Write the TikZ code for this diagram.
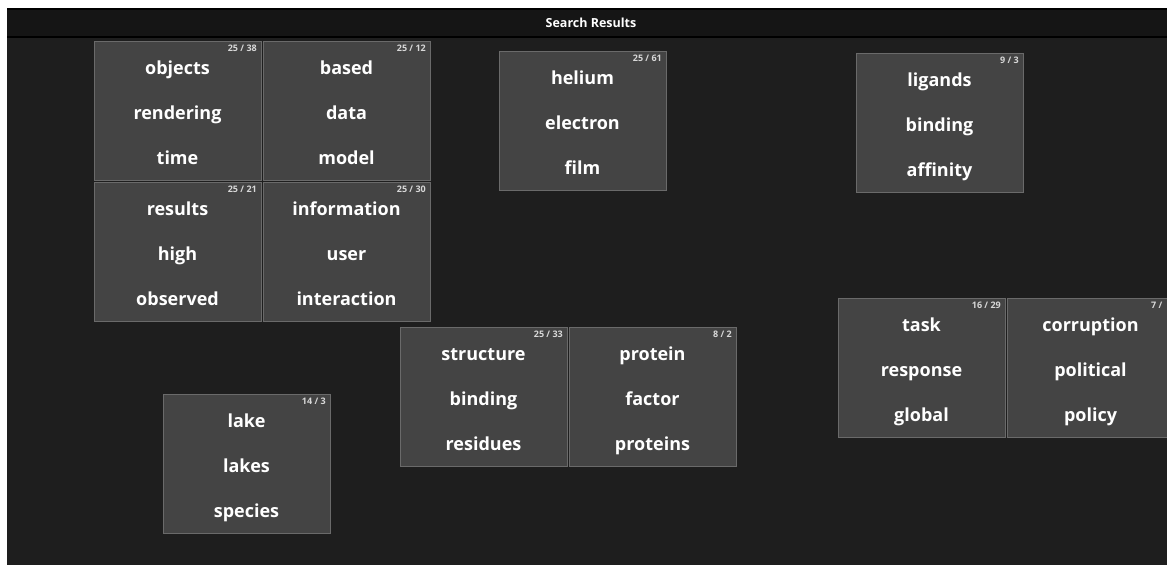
\documentclass[tikz,border=0pt]{standalone}
\usepackage{fontspec}
\setmainfont{Open Sans}
\usetikzlibrary{positioning}
\definecolor{panelbg}{HTML}{1E1E1E}
\definecolor{headerbg}{HTML}{151515}
\definecolor{cardfill}{HTML}{444444}
\definecolor{cardline}{HTML}{6A6A6A}
\definecolor{countgray}{HTML}{D8D8D8}
\tikzstyle{card} = [rectangle, draw=cardline, line width=1pt, fill=cardfill, minimum width=167pt, minimum height=139pt, inner sep=0pt, outer sep=0pt, text=white, align=center, font=\fontsize{18}{45}\selectfont\bfseries]
\tikzstyle{counts} = [anchor=north east, inner sep=0pt, text=countgray, font=\fontsize{9}{10}\selectfont\bfseries, xshift=-4pt, yshift=-4pt]
\tikzstyle{title} = [text=white, font=\fontsize{12.5}{14}\selectfont\bfseries]
% three words per card, fixed room above and below
\newcommand{\words}[3]{\rule{0pt}{22pt}#1\\#2\\#3\rule[-5pt]{0pt}{5pt}}

\begin{document}
\begin{tikzpicture}[x=1pt, y=-1pt]
        \useasboundingbox (0,0) rectangle (1167,565);
        \fill[white] (0,0) rectangle (1167,565);
        \fill[panelbg] (7,8) rectangle (1167,565);
        % header bar
        \fill[black] (7,8) rectangle (1167,38);
        \fill[headerbg] (7,10) rectangle (1167,36);
        \node (head) [title] at (591,23) {Search Results};
        % top left block of four
        \node (objects) [card, anchor=north west, label={[counts]north east:25 / 38}] at (94,41) {\words{objects}{rendering}{time}};
        \node (based) [card, right=2pt of objects, label={[counts]north east:25 / 12}] {\words{based}{data}{model}};
        \node (results) [card, below=2pt of objects, label={[counts]north east:25 / 21}] {\words{results}{high}{observed}};
        \node (information) [card, below=2pt of based, label={[counts]north east:25 / 30}] {\words{information}{user}{interaction}};
        % single cards
        \node (helium) [card, anchor=north west, label={[counts]north east:25 / 61}] at (499,51) {\words{helium}{electron}{film}};
        \node (ligands) [card, anchor=north west, label={[counts]north east:9 / 3}] at (856,53) {\words{ligands}{binding}{affinity}};
        \node (lake) [card, anchor=north west, label={[counts]north east:14 / 3}] at (163,394) {\words{lake}{lakes}{species}};
        % middle pair
        \node (structure) [card, anchor=north west, label={[counts]north east:25 / 33}] at (400,327) {\words{structure}{binding}{residues}};
        \node (protein) [card, right=2pt of structure, label={[counts]north east:8 / 2}] {\words{protein}{factor}{proteins}};
        % right pair, cut by the page edge
        \node (task) [card, anchor=north west, label={[counts]north east:16 / 29}] at (838,298) {\words{task}{response}{global}};
        \node (corruption) [card, right=2pt of task, label={[counts]north east:7 /\phantom{ 2}}] {\words{corruption}{political}{policy}};
    \end{tikzpicture}
\end{document}
